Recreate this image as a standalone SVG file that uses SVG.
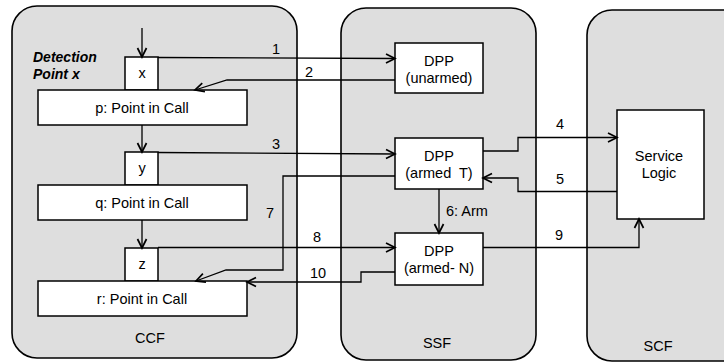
<svg xmlns="http://www.w3.org/2000/svg" width="724" height="362" viewBox="0 0 724 362">
  <style>
    .panel { fill: #dedede; stroke: #000; stroke-width: 1.6; }
    .box { fill: #fff; stroke: #000; stroke-width: 1.5; }
    .t { font-family: "Liberation Sans", Arial, sans-serif; font-size: 14.5px; fill: #000; text-anchor: middle; }
    .lbl { font-family: "Liberation Sans", Arial, sans-serif; font-size: 14.5px; fill: #000; text-anchor: middle; }
    .dp { font-family: "Liberation Sans", Arial, sans-serif; font-size: 14px; font-weight: bold; font-style: italic; fill: #000; }
    .wire { fill: none; stroke: #000; stroke-width: 1.3; marker-end: url(#arr); }
  </style>
  <defs>
    <marker id="arr" markerUnits="userSpaceOnUse" markerWidth="14" markerHeight="12" viewBox="-11 -6 12 12" refX="0" refY="0" orient="auto">
      <path d="M-9,-4.5 L0,0 L-9,4.5" fill="none" stroke="#000" stroke-width="1.7"/>
    </marker>
  </defs>

  <!-- functional entity panels -->
  <g id="ccf">
    <rect class="panel" x="12" y="6" width="285" height="352" rx="25" ry="25"/>
    <text class="t" x="150" y="343">CCF</text>
  </g>
  <g id="ssf">
    <rect class="panel" x="341" y="8" width="195" height="352" rx="25" ry="25"/>
    <text class="t" x="437" y="348">SSF</text>
  </g>
  <g id="scf">
    <rect class="panel" x="587" y="10" width="170" height="351" rx="25" ry="25"/>
    <text class="t" x="658" y="351">SCF</text>
  </g>

  <!-- call model -->
  <g id="dp-label">
    <text class="dp" x="33" y="62">Detection</text>
    <text class="dp" x="33" y="79">Point x</text>
  </g>
  <g id="dp-x">
    <rect class="box" x="125" y="57" width="33" height="33"/>
    <text class="t" x="142" y="78">x</text>
  </g>
  <g id="pic-p">
    <rect class="box" x="38" y="90" width="209" height="35"/>
    <text class="t" x="142" y="113">p: Point in Call</text>
  </g>
  <g id="dp-y">
    <rect class="box" x="125" y="152" width="33" height="33"/>
    <text class="t" x="142" y="173">y</text>
  </g>
  <g id="pic-q">
    <rect class="box" x="38" y="185" width="209" height="35"/>
    <text class="t" x="142" y="208">q: Point in Call</text>
  </g>
  <g id="dp-z">
    <rect class="box" x="125" y="248" width="33" height="33"/>
    <text class="t" x="142" y="269">z</text>
  </g>
  <g id="pic-r">
    <rect class="box" x="38" y="281" width="209" height="35"/>
    <text class="t" x="142" y="304">r: Point in Call</text>
  </g>

  <!-- detection point processing -->
  <g id="dpp-unarmed">
    <rect class="box" x="395" y="43" width="88" height="50"/>
    <text class="t" x="439" y="66">DPP</text>
    <text class="t" x="439" y="83">(unarmed)</text>
  </g>
  <g id="dpp-armed-t">
    <rect class="box" x="395" y="138" width="88" height="51"/>
    <text class="t" x="439" y="161">DPP</text>
    <text class="t" x="439" y="178" xml:space="preserve">(armed  T)</text>
  </g>
  <g id="dpp-armed-n">
    <rect class="box" x="395" y="233" width="88" height="52"/>
    <text class="t" x="439" y="256">DPP</text>
    <text class="t" x="439" y="273">(armed- N)</text>
  </g>

  <!-- service logic -->
  <g id="service-logic">
    <rect class="box" x="617" y="110" width="87" height="109"/>
    <text class="t" x="659" y="161">Service</text>
    <text class="t" x="659" y="178">Logic</text>
  </g>

  <!-- connectors -->
  <g id="connectors">
    <path class="wire" d="M142,28 V57"/>
    <path class="wire" d="M142,125 V152"/>
    <path class="wire" d="M142,220 V248"/>

    <path class="wire" d="M158,57.5 L395,58.5"/>
    <path class="wire" d="M395,80 H227 L195,90"/>
    <path class="wire" d="M158,152.5 L395,154"/>
    <path class="wire" d="M483,151 H518 V137.5 H617"/>
    <path class="wire" d="M617,191.5 H518 V178 H483"/>
    <path class="wire" d="M439,189 V233"/>
    <path class="wire" d="M395,176 H283 V270 H226 L196,281"/>
    <path class="wire" d="M158,247.5 H395"/>
    <path class="wire" d="M483,247.5 H639 V219"/>
    <path class="wire" d="M395,272 H361 V282 H247"/>

    <text class="lbl" x="276" y="54">1</text>
    <text class="lbl" x="309" y="77">2</text>
    <text class="lbl" x="276" y="149">3</text>
    <text class="lbl" x="560" y="129">4</text>
    <text class="lbl" x="560" y="184">5</text>
    <text class="lbl" x="446" y="216" style="text-anchor:start">6: Arm</text>
    <text class="lbl" x="270" y="218">7</text>
    <text class="lbl" x="317" y="242">8</text>
    <text class="lbl" x="559" y="240">9</text>
    <text class="lbl" x="318" y="278">10</text>
  </g>
</svg>
